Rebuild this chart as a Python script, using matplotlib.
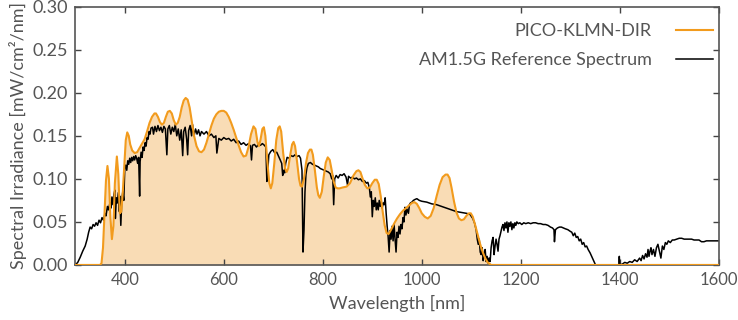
import matplotlib
matplotlib.use("Agg")
import matplotlib.pyplot as plt

# PICO-KLMN-DIR spectrum (wavelength nm, irradiance mW/cm2/nm)
pico_wl = [300, 350, 353, 356, 359, 362, 365, 368, 371, 374, 377, 380, 384, 387, 390,
           393, 396, 399, 402, 405, 408, 411, 415, 420, 425, 430, 435, 440, 445, 450,
           455, 460, 463, 467, 471, 475, 479, 483, 487, 491, 495, 499, 503, 507, 511,
           515, 519, 523, 527, 531, 535, 540, 545, 550, 555, 560, 565, 570, 575, 580,
           585, 590, 595, 600, 605, 610, 615, 620, 625, 630, 635, 640, 645, 650, 655,
           660, 664, 668, 671, 674, 678, 681, 684, 688, 692, 695, 698, 702, 706, 710,
           713, 716, 720, 724, 727, 730, 734, 738, 741, 744, 748, 752, 755, 758, 762,
           766, 770, 774, 777, 780, 784, 788, 791, 794, 798, 802, 806, 810, 814, 818,
           822, 826, 830, 834, 840, 848, 855, 862, 868, 872, 876, 880, 885, 890, 895,
           900, 905, 909, 913, 917, 921, 925, 929, 933, 938, 944, 950, 956, 962, 968,
           974, 980, 985, 990, 995, 1000, 1006, 1012, 1018, 1024, 1030, 1036, 1042, 1048, 1052,
           1056, 1060, 1065, 1070, 1075, 1080, 1085, 1090, 1095, 1099, 1103, 1108, 1113, 1118, 1123,
           1128, 1133, 1140, 1600]
pico_irr = [0, 0, 0.002, 0.02, 0.06, 0.098, 0.115, 0.100, 0.055, 0.030, 0.045, 0.095, 0.126, 0.105, 0.060,
            0.062, 0.085, 0.115, 0.145, 0.154, 0.150, 0.140, 0.133, 0.130, 0.131, 0.136, 0.141, 0.146, 0.155, 0.165,
            0.172, 0.176, 0.176, 0.172, 0.166, 0.163, 0.165, 0.172, 0.178, 0.179, 0.176, 0.168, 0.163, 0.165, 0.172,
            0.183, 0.191, 0.194, 0.192, 0.183, 0.168, 0.150, 0.138, 0.132, 0.131, 0.134, 0.142, 0.152, 0.162, 0.170,
            0.175, 0.178, 0.179, 0.179, 0.177, 0.172, 0.165, 0.157, 0.148, 0.139, 0.131, 0.126, 0.127, 0.137, 0.152,
            0.161, 0.158, 0.143, 0.138, 0.145, 0.158, 0.160, 0.150, 0.120, 0.095, 0.089, 0.095, 0.118, 0.145, 0.159,
            0.161, 0.155, 0.130, 0.112, 0.108, 0.112, 0.127, 0.140, 0.143, 0.138, 0.120, 0.100, 0.092, 0.091, 0.100,
            0.118, 0.130, 0.134, 0.134, 0.128, 0.110, 0.090, 0.081, 0.078, 0.085, 0.103, 0.119, 0.125, 0.122, 0.110,
            0.097, 0.090, 0.089, 0.089, 0.090, 0.091, 0.095, 0.104, 0.109, 0.110, 0.108, 0.101, 0.093, 0.089, 0.090,
            0.095, 0.099, 0.099, 0.094, 0.080, 0.062, 0.046, 0.037, 0.036, 0.041, 0.048, 0.054, 0.059, 0.063, 0.066,
            0.069, 0.072, 0.073, 0.071, 0.066, 0.060, 0.056, 0.054, 0.057, 0.066, 0.080, 0.093, 0.102, 0.105, 0.105,
            0.101, 0.090, 0.074, 0.061, 0.054, 0.052, 0.053, 0.057, 0.060, 0.060, 0.056, 0.046, 0.035, 0.024, 0.015,
            0.008, 0.003, 0, 0]

# AM1.5G reference spectrum
am_wl = [300, 305, 310, 315, 320, 324, 327, 330, 333, 336, 339, 342, 345, 348, 351,
         354, 357, 360, 362, 365, 367, 370, 372, 374, 376, 378, 380, 381, 383, 385,
         387, 389, 390, 392, 394, 396, 398, 400, 402, 404, 406, 408, 410, 412, 414,
         416, 418, 420, 422, 424, 426, 428, 430, 431, 433, 435, 437, 439, 441, 443,
         445, 447, 449, 451, 453, 456, 458, 461, 464, 467, 470, 473, 476, 479, 482,
         485, 487, 490, 493, 496, 499, 502, 505, 508, 511, 514, 517, 519, 522, 525,
         527, 529, 532, 535, 537, 540, 543, 546, 549, 552, 555, 560, 565, 570, 575,
         580, 584, 586, 590, 595, 600, 605, 610, 615, 620, 625, 630, 635, 640, 645,
         650, 654, 656, 658, 662, 666, 670, 674, 678, 682, 685, 687, 689, 691, 695,
         699, 703, 707, 711, 714, 717, 719, 721, 723, 725, 728, 732, 736, 740, 744,
         748, 752, 755, 758, 760, 762, 764, 766, 768, 771, 775, 779, 783, 787, 791,
         795, 799, 803, 807, 811, 815, 818, 820, 822, 824, 827, 831, 835, 839, 843,
         847, 850, 852, 856, 860, 864, 868, 872, 876, 880, 884, 888, 891, 894, 896,
         898, 900, 902, 904, 906, 908, 910, 912, 914, 916, 918, 920, 922, 924, 926,
         928, 930, 932, 934, 936, 938, 940, 942, 944, 946, 948, 950, 952, 954, 956,
         958, 960, 962, 964, 966, 968, 970, 973, 975, 977, 980, 983, 986, 990, 995,
         1000, 1010, 1020, 1030, 1040, 1050, 1060, 1070, 1080, 1090, 1097, 1103, 1107, 1110, 1112,
         1114, 1116, 1118, 1120, 1122, 1124, 1126, 1128, 1130, 1132, 1134, 1136, 1138, 1140, 1142,
         1144, 1146, 1148, 1150, 1152, 1154, 1156, 1158, 1160, 1162, 1164, 1166, 1168, 1170, 1172,
         1174, 1176, 1178, 1180, 1182, 1184, 1186, 1188, 1190, 1192, 1195, 1198, 1202, 1206, 1210,
         1215, 1220, 1225, 1230, 1235, 1240, 1245, 1250, 1255, 1260, 1264, 1267, 1268, 1270, 1274,
         1278, 1282, 1286, 1290, 1295, 1300, 1303, 1306, 1309, 1312, 1315, 1318, 1321, 1324, 1327,
         1330, 1333, 1336, 1340, 1344, 1348, 1351, 1398, 1399, 1400, 1405, 1410, 1415, 1420, 1425,
         1430, 1435, 1440, 1443, 1446, 1449, 1452, 1455, 1457, 1459, 1461, 1463, 1465, 1468, 1471,
         1474, 1477, 1480, 1483, 1486, 1489, 1492, 1495, 1498, 1502, 1506, 1510, 1515, 1520, 1525,
         1530, 1535, 1540, 1545, 1550, 1555, 1560, 1565, 1570, 1575, 1580, 1585, 1590, 1595, 1600]
am_irr = [0.000, 0.003, 0.009, 0.016, 0.022, 0.030, 0.038, 0.044, 0.042, 0.047, 0.045, 0.049, 0.046, 0.052, 0.049,
          0.055, 0.052, 0.060, 0.057, 0.068, 0.064, 0.072, 0.066, 0.079, 0.070, 0.082, 0.087, 0.054, 0.078, 0.072,
          0.084, 0.062, 0.080, 0.046, 0.076, 0.085, 0.075, 0.112, 0.116, 0.110, 0.121, 0.117, 0.124, 0.119, 0.125,
          0.121, 0.126, 0.122, 0.127, 0.124, 0.118, 0.125, 0.080, 0.120, 0.131, 0.125, 0.137, 0.133, 0.142, 0.138,
          0.148, 0.146, 0.155, 0.152, 0.159, 0.160, 0.152, 0.161, 0.155, 0.162, 0.156, 0.160, 0.154, 0.161, 0.158,
          0.128, 0.158, 0.162, 0.152, 0.160, 0.155, 0.163, 0.150, 0.158, 0.145, 0.157, 0.127, 0.155, 0.160, 0.146,
          0.128, 0.156, 0.162, 0.150, 0.163, 0.150, 0.158, 0.152, 0.157, 0.150, 0.155, 0.152, 0.155, 0.150, 0.152,
          0.148, 0.150, 0.130, 0.147, 0.145, 0.148, 0.146, 0.147, 0.144, 0.146, 0.142, 0.144, 0.140, 0.142, 0.139,
          0.141, 0.138, 0.122, 0.139, 0.140, 0.137, 0.140, 0.139, 0.141, 0.139, 0.137, 0.097, 0.110, 0.128, 0.132,
          0.134, 0.130, 0.131, 0.126, 0.122, 0.118, 0.104, 0.110, 0.107, 0.118, 0.125, 0.124, 0.127, 0.126, 0.128,
          0.126, 0.127, 0.124, 0.110, 0.015, 0.040, 0.085, 0.105, 0.113, 0.118, 0.119, 0.117, 0.116, 0.115, 0.114,
          0.112, 0.111, 0.110, 0.109, 0.108, 0.106, 0.100, 0.104, 0.070, 0.100, 0.104, 0.101, 0.105, 0.104, 0.106,
          0.102, 0.093, 0.103, 0.101, 0.102, 0.100, 0.101, 0.099, 0.100, 0.097, 0.098, 0.095, 0.096, 0.090, 0.079,
          0.085, 0.056, 0.075, 0.068, 0.078, 0.064, 0.072, 0.064, 0.075, 0.068, 0.074, 0.066, 0.072, 0.070, 0.078,
          0.060, 0.045, 0.033, 0.015, 0.040, 0.030, 0.045, 0.028, 0.047, 0.030, 0.015, 0.038, 0.032, 0.045, 0.036,
          0.047, 0.042, 0.055, 0.050, 0.067, 0.058, 0.065, 0.060, 0.070, 0.072, 0.073, 0.075, 0.076, 0.077, 0.075,
          0.074, 0.073, 0.071, 0.070, 0.068, 0.066, 0.064, 0.062, 0.061, 0.060, 0.059, 0.054, 0.048, 0.040, 0.030,
          0.024, 0.030, 0.015, 0.012, 0.020, 0.005, 0.012, 0.018, 0.004, 0.010, 0.002, 0.008, 0.004, 0.020, 0.028,
          0.032, 0.012, 0.022, 0.030, 0.024, 0.016, 0.030, 0.034, 0.039, 0.044, 0.047, 0.040, 0.049, 0.043, 0.050,
          0.038, 0.049, 0.045, 0.050, 0.041, 0.048, 0.043, 0.049, 0.046, 0.050, 0.048, 0.049, 0.047, 0.049, 0.048,
          0.049, 0.048, 0.049, 0.049, 0.048, 0.048, 0.047, 0.047, 0.046, 0.044, 0.043, 0.041, 0.027, 0.041, 0.043,
          0.044, 0.044, 0.043, 0.042, 0.041, 0.039, 0.038, 0.034, 0.037, 0.032, 0.033, 0.028, 0.030, 0.024, 0.026,
          0.021, 0.022, 0.018, 0.014, 0.009, 0.004, 0.000, 0.000, 0.010, 0.000, 0.001, 0.003, 0.002, 0.004, 0.003,
          0.006, 0.004, 0.008, 0.005, 0.011, 0.007, 0.013, 0.009, 0.018, 0.010, 0.016, 0.020, 0.012, 0.018, 0.010,
          0.020, 0.024, 0.016, 0.008, 0.022, 0.018, 0.026, 0.024, 0.028, 0.026, 0.029, 0.029, 0.030, 0.031, 0.031,
          0.030, 0.030, 0.030, 0.030, 0.029, 0.029, 0.029, 0.027, 0.027, 0.028, 0.028, 0.028, 0.028, 0.028, 0.028]

text_gray = '#555555'
orange = '#f29b1d'
fill_color = '#f9dcb5'

plt.rcParams['font.family'] = ['Lato', 'DejaVu Sans']

fig = plt.figure(figsize=(7.38, 3.2), dpi=100)
ax = fig.add_axes([0.102, 0.172, 0.872, 0.807])

ax.fill_between(pico_wl, pico_irr, 0, color=fill_color, linewidth=0, zorder=1)
ax.plot(am_wl, am_irr, color='black', linewidth=1.1, label='AM1.5G Reference Spectrum', zorder=2)
ax.plot(pico_wl, pico_irr, color=orange, linewidth=1.5, label='PICO-KLMN-DIR', zorder=3)

ax.set_xlim(300, 1600)
ax.set_ylim(0, 0.30)
ax.set_xticks([400, 600, 800, 1000, 1200, 1400, 1600])
ax.set_yticks([0.00, 0.05, 0.10, 0.15, 0.20, 0.25, 0.30])
ax.yaxis.set_major_formatter(matplotlib.ticker.FormatStrFormatter('%.2f'))
ax.tick_params(direction='in', top=True, right=True, length=4, width=1,
               colors='#444444', labelcolor=text_gray, labelsize=13, pad=5)
ax.tick_params(axis='x', labelsize=12)
for s in ax.spines.values():
    s.set_color('#555555')
    s.set_linewidth(1.2)

ax.set_xlabel('Wavelength [nm]', fontsize=13, color=text_gray, labelpad=5)
ax.set_ylabel('Spectral Irradiance [mW/cm²/nm]', fontsize=13, color=text_gray, labelpad=4)

handles, labels = ax.get_legend_handles_labels()
leg = ax.legend(handles[::-1], labels[::-1], loc='upper right', frameon=False,
                markerfirst=False, fontsize=13, handlelength=2.05, handletextpad=1.35,
                labelspacing=0.72, bbox_to_anchor=(1.016, 1.0))
for t in leg.get_texts():
    t.set_color(text_gray)

fig.savefig('out.png', dpi=100)
